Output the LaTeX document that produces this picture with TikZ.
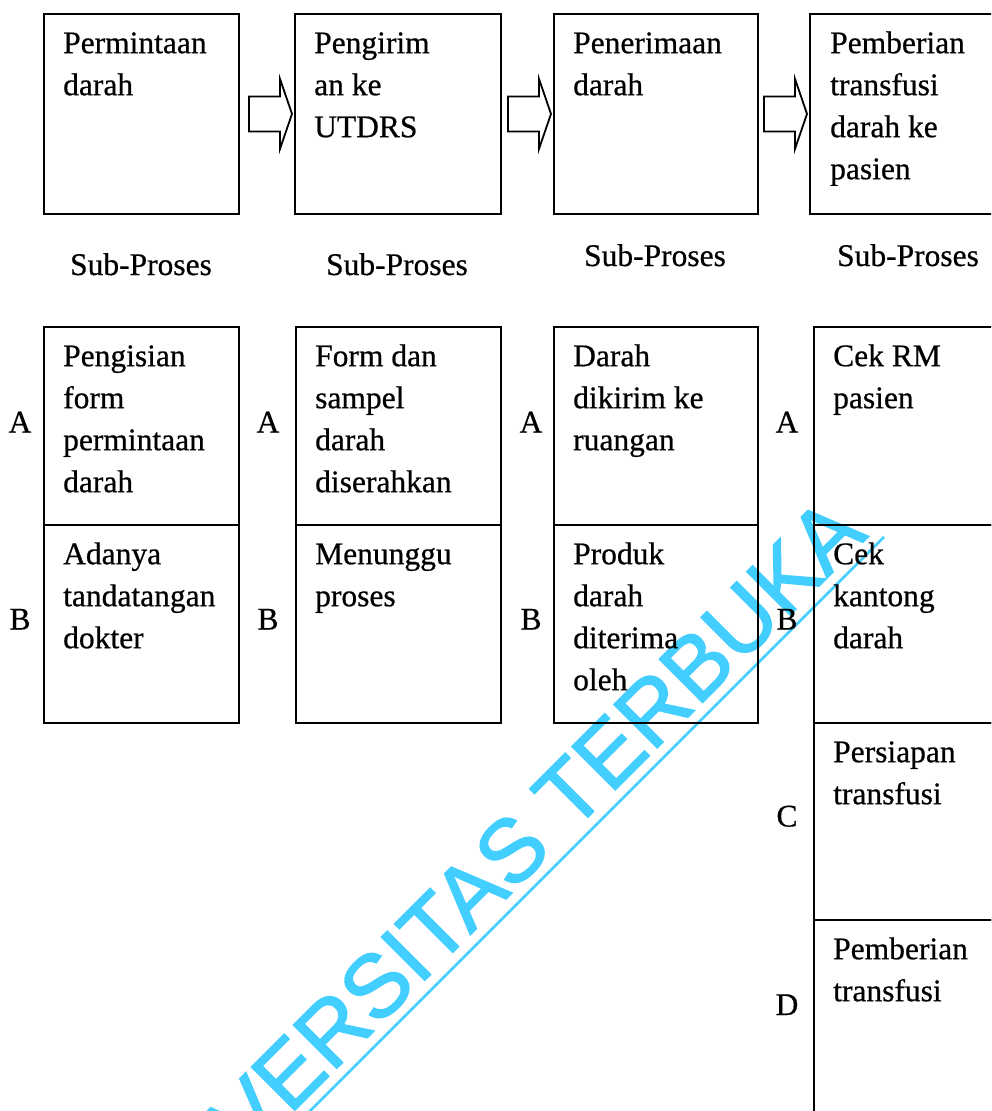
\documentclass[tikz,border=0pt]{standalone}
\usepackage{fontspec}
\setmainfont[FakeBold=0.6]{Liberation Serif}
\newfontfamily\wmfont[FakeBold=1.6]{Liberation Sans}
\definecolor{wm}{RGB}{66,206,255}
\newcommand\blockarrow[1]{%
  \draw[blk] ([shift={(-2,0)}]#1.west) -- ++(-12,-35) -- ++(0,17.5) -- ++(-31,0)
    -- ++(0,35) -- ++(31,0) -- ++(0,17.5) -- cycle;}
\begin{document}
\begin{tikzpicture}[x=1pt,y=-1pt,
  box/.style={draw, line width=1.8pt, inner sep=0pt, anchor=north west},
  txt/.style={anchor=north west, inner sep=0pt, align=left, font=\fontsize{31.5}{42}\selectfont},
  lab/.style={anchor=base, inner sep=0pt, font=\fontsize{31.5}{42}\selectfont},
  blk/.style={draw, line width=1.8pt, fill=white, line join=miter},
  wmtext/.style={anchor=base east, inner sep=0pt, rotate=45, text=wm, font=\wmfont\fontsize{89}{90}\selectfont},
  wmline/.style={draw=wm, line width=2.6pt}]
\useasboundingbox (0,0) rectangle (991,1111);
\begin{scope}
\clip (0,0) rectangle (991,1111);
% watermark (under everything)
\coordinate (wmend) at (884,537);
\coordinate (wmstart) at (250,1171);
\node[wmtext] (wm) at (869,536) {UNIVERSITAS TERBUKA};
\draw[wmline] (wmstart) -- (wmend);
% top process boxes
\node[box, minimum width=195pt, minimum height=200pt] (p1) at (43,13) {};
\node[box, minimum width=206pt, minimum height=200pt] (p2) at (294,13) {};
\node[box, minimum width=204pt, minimum height=200pt] (p3) at (553,13) {};
\node[box, minimum width=210pt, minimum height=200pt] (p4) at (809,13) {};
\node[txt] (p1t) at ([shift={(20,10.6)}]p1.north west) {\strut Permintaan\\darah};
\node[txt] (p2t) at ([shift={(20,10.6)}]p2.north west) {\strut Pengirim\\an ke\\UTDRS};
\node[txt] (p3t) at ([shift={(20,10.6)}]p3.north west) {\strut Penerimaan\\darah};
\node[txt] (p4t) at ([shift={(21,10.6)}]p4.north west) {\strut Pemberian\\transfusi\\darah ke\\pasien};
% block arrows
\blockarrow{p2}
\blockarrow{p3}
\blockarrow{p4}
% Sub-Proses labels
\node[lab] (s1) at (141,275) {Sub-Proses};
\node[lab] (s2) at (397,275) {Sub-Proses};
\node[lab] (s3) at (655,266) {Sub-Proses};
\node[lab] (s4) at (908,266) {Sub-Proses};
% sub-process boxes
\node[box, minimum width=195pt, minimum height=198pt] (a1) at (43,326) {};
\node[box, minimum width=195pt, minimum height=198pt] (b1) at (43,524) {};
\node[box, minimum width=205pt, minimum height=198pt] (a2) at (295,326) {};
\node[box, minimum width=205pt, minimum height=198pt] (b2) at (295,524) {};
\node[box, minimum width=204pt, minimum height=198pt] (a3) at (553,326) {};
\node[box, minimum width=204pt, minimum height=198pt] (b3) at (553,524) {};
\node[box, minimum width=210pt, minimum height=198pt] (a4) at (813,326) {};
\node[box, minimum width=210pt, minimum height=198pt] (b4) at (813,524) {};
\node[box, minimum width=210pt, minimum height=197pt] (c4) at (813,722) {};
\node[box, minimum width=210pt, minimum height=200pt] (d4) at (813,919) {};
\node[txt] (a1t) at ([shift={(20,10.6)}]a1.north west) {\strut Pengisian\\form\\permintaan\\darah};
\node[txt] (b1t) at ([shift={(20,10.6)}]b1.north west) {\strut Adanya\\tandatangan\\dokter};
\node[txt] (a2t) at ([shift={(20,10.6)}]a2.north west) {\strut Form dan\\sampel\\darah\\diserahkan};
\node[txt] (b2t) at ([shift={(20,10.6)}]b2.north west) {\strut Menunggu\\proses};
\node[txt] (a3t) at ([shift={(20,10.6)}]a3.north west) {\strut Darah\\dikirim ke\\ruangan};
\node[txt] (b3t) at ([shift={(20,10.6)}]b3.north west) {\strut Produk\\darah\\diterima\\oleh};
\node[txt] (a4t) at ([shift={(20,10.6)}]a4.north west) {\strut Cek RM\\pasien};
\node[txt] (b4t) at ([shift={(20,10.6)}]b4.north west) {\strut Cek\\kantong\\darah};
\node[txt] (c4t) at ([shift={(20,10.6)}]c4.north west) {\strut Persiapan\\transfusi};
\node[txt] (d4t) at ([shift={(20,10.6)}]d4.north west) {\strut Pemberian\\transfusi};
% row letters
\node[lab] (la1) at (20,432.5) {A};
\node[lab] (lb1) at (20,629.5) {B};
\node[lab] (la2) at (268,432.5) {A};
\node[lab] (lb2) at (268,629.5) {B};
\node[lab] (la3) at (531,432.5) {A};
\node[lab] (lb3) at (531,629.5) {B};
\node[lab] (la4) at (787,432.5) {A};
\node[lab] (lb4) at (787,629.5) {B};
\node[lab] (lc4) at (787,826.5) {C};
\node[lab] (ld4) at (787,1015) {D};
\end{scope}
\end{tikzpicture}
\end{document}
